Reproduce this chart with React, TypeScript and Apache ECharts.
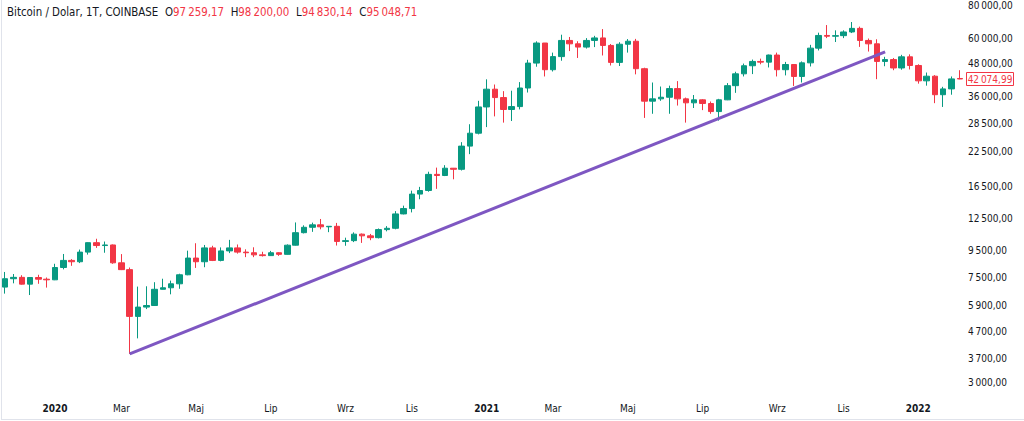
import React, { useEffect, useRef } from "react";
import * as echarts from "echarts";

// Weekly BTC/USD candles, first week starting 2019-11-25
const startWeek = "2019-11-25";
const open = [
  6900, 7420, 7510, 7080, 7500, 7390, 7350, 8180, 8700, 8600,
  9350, 10150, 9900, 9950, 8520, 8030, 5350, 5800, 5880, 6770,
  6860, 7100, 7680, 8880, 8600, 9700, 8700, 9450, 9700, 9350,
  9300, 9130, 9070, 9300, 9170, 9930, 11070, 11600, 11850, 11650,
  11700, 10260, 10330, 10930, 10770, 10600, 11370, 11500, 13030, 13650,
  15480, 15970, 18370, 18190, 19380, 19200, 23480, 26270, 33000, 38500,
  35800, 32270, 33100, 38900, 48300, 57500, 45600, 51100, 58800, 57100,
  55500, 58800, 60100, 56300, 48600, 56900, 58400, 46000, 34700, 35400,
  35900, 38700, 35400, 34200, 35100, 34000, 31700, 35100, 39700, 44000,
  47200, 49000, 48700, 51800, 45600, 47700, 43000, 48400, 55000, 61400,
  61000, 61300, 63300, 65300, 58800, 57100, 49000, 49800, 46300, 51000,
  47300, 41400, 43100, 36700, 38600, 42250,
];
const high = [
  7870, 7730, 7650, 7520, 7680, 7500, 8450, 9200, 8800, 9560,
  10180, 10500, 10250, 9990, 9190, 8180, 6930, 6950, 7200, 7420,
  7300, 7750, 9470, 10100, 9950, 9880, 9740, 10400, 9990, 9580,
  9750, 9380, 9450, 9340, 10000, 12100, 11800, 12080, 12470, 11720,
  12050, 10600, 11100, 10990, 10950, 11480, 11720, 13350, 14000, 15950,
  16480, 18800, 19480, 19900, 19420, 24300, 28400, 34800, 41950, 40100,
  37850, 38000, 40950, 49700, 58350, 57500, 52900, 61800, 60600, 58400,
  60000, 61200, 64900, 57000, 57900, 59500, 59600, 46400, 40800, 39400,
  39700, 41300, 35800, 36600, 35300, 34600, 35400, 40600, 44800, 48100,
  49800, 50200, 52000, 52900, 48800, 47800, 49000, 56600, 62900, 67200,
  64200, 64200, 69000, 66300, 59800, 59400, 51000, 50500, 51900, 52100,
  47800, 44500, 43500, 39300, 43000, 45400,
];
const low = [
  6520, 7130, 7050, 6440, 7100, 6870, 7330, 8050, 8300, 8500,
  9150, 9700, 9300, 8450, 8000, 3860, 4420, 5700, 5860, 6760,
  6480, 6800, 7650, 8150, 8200, 8650, 8630, 9270, 9230, 8950,
  8950, 9000, 9050, 9050, 9150, 9900, 11000, 11150, 11400, 11120,
  9900, 9880, 10200, 10130, 10370, 10530, 11200, 11400, 12980, 13200,
  14800, 15800, 16200, 18100, 17600, 19000, 21900, 26000, 27700, 30400,
  28800, 29200, 32300, 37400, 46800, 43000, 44900, 49300, 53600, 50500,
  54800, 55500, 51600, 47300, 47100, 52900, 43800, 30000, 31100, 34800,
  31100, 33400, 28800, 32700, 32100, 31100, 29300, 35000, 37300, 43000,
  43900, 47800, 46500, 43000, 43400, 39600, 40800, 46900, 53900, 60000,
  58000, 60000, 62700, 55600, 53400, 42000, 47000, 45400, 45600, 45700,
  40400, 39700, 34100, 33000, 36700, 42000,
];
const close = [
  7420, 7510, 7080, 7500, 7390, 7350, 8180, 8700, 8600, 9350,
  10150, 9900, 9950, 8520, 8030, 5350, 5800, 5880, 6770, 6860,
  7100, 7680, 8880, 8600, 9700, 8700, 9450, 9700, 9350, 9300,
  9130, 9070, 9300, 9170, 9930, 11070, 11600, 11850, 11650, 11700,
  10260, 10330, 10930, 10770, 10600, 11370, 11500, 13030, 13650, 15480,
  15970, 18370, 18190, 19380, 19200, 23480, 26270, 33000, 38500, 35800,
  32270, 33100, 38900, 48300, 57500, 45600, 51100, 58800, 57100, 55500,
  58800, 60100, 56300, 48600, 56900, 58400, 46000, 34700, 35400, 35900,
  38700, 35400, 34200, 35100, 34000, 31700, 35100, 39700, 44000, 47200,
  49000, 48700, 51800, 45600, 47700, 43000, 48400, 55000, 61400, 61000,
  61300, 63300, 65300, 58800, 57100, 49000, 49800, 46300, 51000, 47300,
  41400, 43100, 36700, 38600, 42100, 42074.99,
];

const priceTicks = [3000, 3700, 4700, 5900, 7500, 9500, 12500, 16500, 22500, 28500, 36000, 48000, 60000, 80000];
const monthNames = ["Sty", "Lut", "Mar", "Kwi", "Maj", "Cze", "Lip", "Sie", "Wrz", "Paź", "Lis", "Gru"];
const trendStart = { index: 15, price: 3860 };
const trendEnd = { index: 106, price: 53200 };
const header = { name: "Bitcoin / Dolar, 1T, COINBASE", o: 97259.17, h: 98200.0, l: 94830.14, c: 95048.71 };

const FONT = "'Liberation Sans Narrow', 'DejaVu Sans Condensed', 'Roboto Condensed', Roboto, sans-serif";
const UP = "#089981";
const DOWN = "#f23645";

function fmt(v: number): string {
  const s = v.toFixed(2);
  const [i, d] = s.split(".");
  return i.replace(/\B(?=(\d{3})+(?!\d))/g, "\u202F") + "," + d;
}

export default function App() {
  const ref = useRef<HTMLDivElement>(null);
  useEffect(() => {
    if (!ref.current) return;
    const chart = echarts.init(ref.current, undefined, { renderer: "svg" });
    const t0 = Date.parse(startWeek + "T00:00:00Z");
    const dates = open.map((_, i) => new Date(t0 + i * 7 * 86400000).toISOString().slice(0, 10));
    const data = open.map((o, i) => [o, close[i], low[i], high[i]]);
    const lastClose = close[close.length - 1];

    chart.setOption({
      animation: false,
      backgroundColor: "#ffffff",
      textStyle: { fontFamily: FONT },
      grid: { left: 1, right: 60, top: 0, height: 395 },
      xAxis: {
        type: "category",
        data: dates,
        boundaryGap: true,
        axisLine: { show: false },
        axisTick: { show: false },
        splitLine: { show: false },
        axisLabel: {
          margin: 8,
          fontSize: 10,
          color: "#131722",
          fontFamily: FONT,
          interval: (_idx: number, value: string) => {
            const d = new Date(value + "T00:00:00Z");
            return d.getUTCDate() <= 7 && d.getUTCMonth() % 2 === 0;
          },
          formatter: (value: string) => {
            const d = new Date(value + "T00:00:00Z");
            const m = d.getUTCMonth();
            return m === 0 ? "{y|" + d.getUTCFullYear() + "}" : monthNames[m];
          },
          rich: { y: { fontWeight: "bold", fontSize: 10, color: "#131722", fontFamily: FONT } },
        },
      },
      yAxis: {
        type: "log",
        logBase: 10,
        position: "right",
        min: 2702.6,
        max: 81878,
        axisLine: { show: false },
        axisTick: { show: false },
        splitLine: { show: false },
        axisLabel: {
          margin: 4,
          fontSize: 10,
          color: "#131722",
          fontFamily: FONT,
          customValues: priceTicks,
          formatter: (v: number) => fmt(Math.round(v)),
        },
      },
      series: [
        {
          type: "candlestick",
          data,
          barWidth: 6,
          itemStyle: { color: UP, color0: DOWN, borderColor: UP, borderColor0: DOWN, borderWidth: 1 },
          markLine: {
            silent: true,
            symbol: ["none", "none"],
            data: [
              [
                { coord: [dates[trendStart.index], trendStart.price], lineStyle: { color: "#7e57c2", width: 3, type: "solid" }, label: { show: false } },
                { coord: [dates[trendEnd.index], trendEnd.price] },
              ],
            ],
          },
        },
      ],
    });

    const yPix = chart.convertToPixel({ yAxisIndex: 0 }, lastClose) as number;
    chart.setOption({
      graphic: [
        {
          id: "hdr",
          type: "text",
          left: 7,
          top: 6,
          style: {
            text:
              "{n|" + header.name + "}  {k|O}{v|" + fmt(header.o) + "}  {k|H}{v|" + fmt(header.h) +
              "}  {k|L}{v|" + fmt(header.l) + "}  {k|C}{v|" + fmt(header.c) + "}",
            rich: {
              n: { fontSize: 11.4, fill: "#131722", fontFamily: FONT },
              k: { fontSize: 11.4, fill: "#131722", fontFamily: FONT },
              v: { fontSize: 11.4, fill: DOWN, fontFamily: FONT },
            },
          },
        },
        {
          id: "pbox",
          type: "rect",
          shape: { x: 966.5, y: Math.round(yPix) - 6.5, width: 47, height: 13 },
          style: { fill: "#ffffff", stroke: DOWN, lineWidth: 1 },
          z: 10,
        },
        {
          id: "ptxt",
          type: "text",
          x: 990,
          y: Math.round(yPix),
          style: { text: fmt(lastClose), fill: DOWN, fontSize: 10, fontFamily: FONT, align: "center", verticalAlign: "middle" },
          z: 11,
        },
        { id: "fl", type: "line", shape: { x1: 1.5, y1: 0, x2: 1.5, y2: 419.5 }, style: { stroke: "#e0e3eb", lineWidth: 1 } },
        { id: "fb", type: "line", shape: { x1: 1, y1: 419.5, x2: 1024, y2: 419.5 }, style: { stroke: "#e0e3eb", lineWidth: 1 } },
      ],
    });
    return () => chart.dispose();
  }, []);
  return <div ref={ref} style={{ position: "absolute", left: 0, top: 0, width: 1024, height: 421, background: "#fff" }} />;
}
